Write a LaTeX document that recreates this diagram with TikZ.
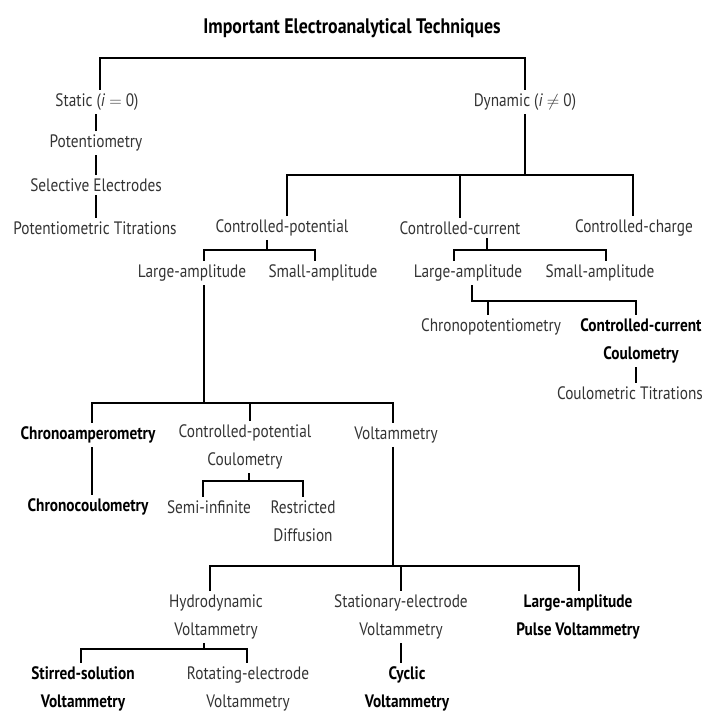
\documentclass[tikz,border=0pt]{standalone}
\usepackage{fontspec}
\setmainfont{PT Sans}[FakeStretch=0.85]
\usepackage{tikz}
\usetikzlibrary{positioning,calc}

\tikzset{
  lbl/.style={inner sep=3pt, align=center, text=black!80,
    font=\fontsize{18}{28}\selectfont},
  lblb/.style={lbl, text=black, font=\fontsize{18}{28}\selectfont\bfseries},
}

\begin{document}
\begin{tikzpicture}[x=1pt, y=-1pt, line width=1.5pt]
\useasboundingbox (0,0) rectangle (710,713);
% title
\node[lblb, font=\fontsize{21}{24}\selectfont\bfseries] (title) at (352,28) {Important Electroanalytical Techniques};
% static branch
\node[lbl] (static) at (97,102) {Static (\textit{i} $=$ 0)};
\node[lbl] (pot) at (96,143) {Potentiometry};
\node[lbl] (sel) at (96,185) {Selective Electrodes};
\node[lbl] (ptit) at (95,228) {Potentiometric Titrations};
% dynamic branch
\node[lbl] (dyn) at (525,102) {Dynamic (\textit{i} $\neq$ 0)};
\node[lbl] (cpot) at (282,228) {Controlled-potential};
\node[lbl] (ccur) at (460,228) {Controlled-current};
\node[lbl] (cchg) at (634,228) {Controlled-charge};
\node[lbl] (lamp1) at (192,273) {Large-amplitude};
\node[lbl] (samp1) at (323,273) {Small-amplitude};
\node[lbl] (lamp2) at (468,273) {Large-amplitude};
\node[lbl] (samp2) at (600,273) {Small-amplitude};
\node[lbl] (chpot) at (491,327) {Chronopotentiometry};
\node[lblb] (cccoul) at (641,341) {Controlled-current\\Coulometry};
\node[lbl] (ctit) at (630,393) {Coulometric Titrations};
\node[lblb] (champ) at (88,435) {Chronoamperometry};
\node[lbl] (cpcoul) at (245,447) {Controlled-potential\\Coulometry};
\node[lbl] (volt) at (396,435) {Voltammetry};
\node[lblb] (chcoul) at (88,507) {Chronocoulometry};
\node[lbl] (semi) at (209,507) {Semi-infinite};
\node[lbl] (restr) at (303,521) {Restricted\\Diffusion};
\node[lbl] (hydro) at (216,617) {Hydrodynamic\\Voltammetry};
\node[lbl] (stat) at (401,617) {Stationary-electrode\\Voltammetry};
\node[lblb] (lapv) at (578,617) {Large-amplitude\\Pulse Voltammetry};
\node[lblb] (stirr) at (83,689) {Stirred-solution\\Voltammetry};
\node[lbl] (rot) at (248,689) {Rotating-electrode\\Voltammetry};
\node[lblb] (cyc) at (407,689) {Cyclic\\Voltammetry};

% bar junctions
\coordinate (t1) at (100,58);
\coordinate (t2) at (525,58);
\coordinate (d1) at (287,175);
\coordinate (d2) at (633,175);
\coordinate (c1) at (267,250);
\coordinate (c1l) at (204,250);
\coordinate (c1r) at (315,250);
\coordinate (c2) at (487,250);
\coordinate (c2l) at (454,250);
\coordinate (c2r) at (606,250);
\coordinate (c3) at (472,301);
\coordinate (c3m) at (488,301);
\coordinate (c3r) at (636,301);
\coordinate (c5) at (204,403);
\coordinate (c5l) at (92,403);
\coordinate (c5m) at (250,403);
\coordinate (c5r) at (393,403);
\coordinate (c6) at (249,481);
\coordinate (c6l) at (203,481);
\coordinate (c6r) at (303,481);
\coordinate (c7) at (393,566);
\coordinate (c7l) at (210,566);
\coordinate (c7m) at (401,566);
\coordinate (c7r) at (579,566);
\coordinate (c8) at (204,649);
\coordinate (c8l) at (81,649);
\coordinate (c8r) at (247,649);

% top
\draw (t1 |- static.north) -- (t1) -- (t2) -- (t2 |- dyn.north);
% static chain
\draw (pot.north) -- (pot.north |- static.south);
\draw (sel.north) -- (sel.north |- pot.south);
\draw (sel.south) -- (sel.south |- ptit.north);
% dynamic
\draw (dyn) -- (dyn |- d1);
\draw (d1 |- cpot.north) -- (d1) -- (d2) -- (d2 |- cchg.north);
\draw (ccur.north) -- (ccur.north |- d1);
% controlled-potential
\draw (c1 |- cpot.south) -- (c1);
\draw (c1l |- lamp1.north) -- (c1l) -- (c1r) -- (c1r |- samp1.north);
% controlled-current
\draw (c2 |- ccur.south) -- (c2);
\draw (c2l |- lamp2.north) -- (c2l) -- (c2r) -- (c2r |- samp2.north);
\draw (c3 |- lamp2.south) -- (c3) -- (c3r) -- (c3r |- cccoul.north);
\draw (c3m) -- (c3m |- chpot.north);
\draw (c3r |- cccoul.south) -- (c3r |- ctit.north);
% large-amplitude (potential)
\draw (c5 |- lamp1.south) -- (c5);
\draw (c5l |- champ.north) -- (c5l) -- (c5r) -- (c5r |- volt.north);
\draw (c5m) -- (c5m |- cpcoul.north);
\draw (c5l |- champ.south) -- (c5l |- chcoul.north);
\draw (c6 |- cpcoul.south) -- (c6);
\draw (c6l |- semi.north) -- (c6l) -- (c6r) -- (c6r |- restr.north);
% voltammetry
\draw (c7 |- volt.south) -- (c7);
\draw (c7l |- hydro.north) -- (c7l) -- (c7r) -- (c7r |- lapv.north);
\draw (c7m) -- (c7m |- stat.north);
\draw (c8 |- hydro.south) -- (c8);
\draw (c8l |- stirr.north) -- (c8l) -- (c8r) -- (c8r |- rot.north);
\draw (c7m |- stat.south) -- (c7m |- cyc.north);
\end{tikzpicture}
\end{document}
